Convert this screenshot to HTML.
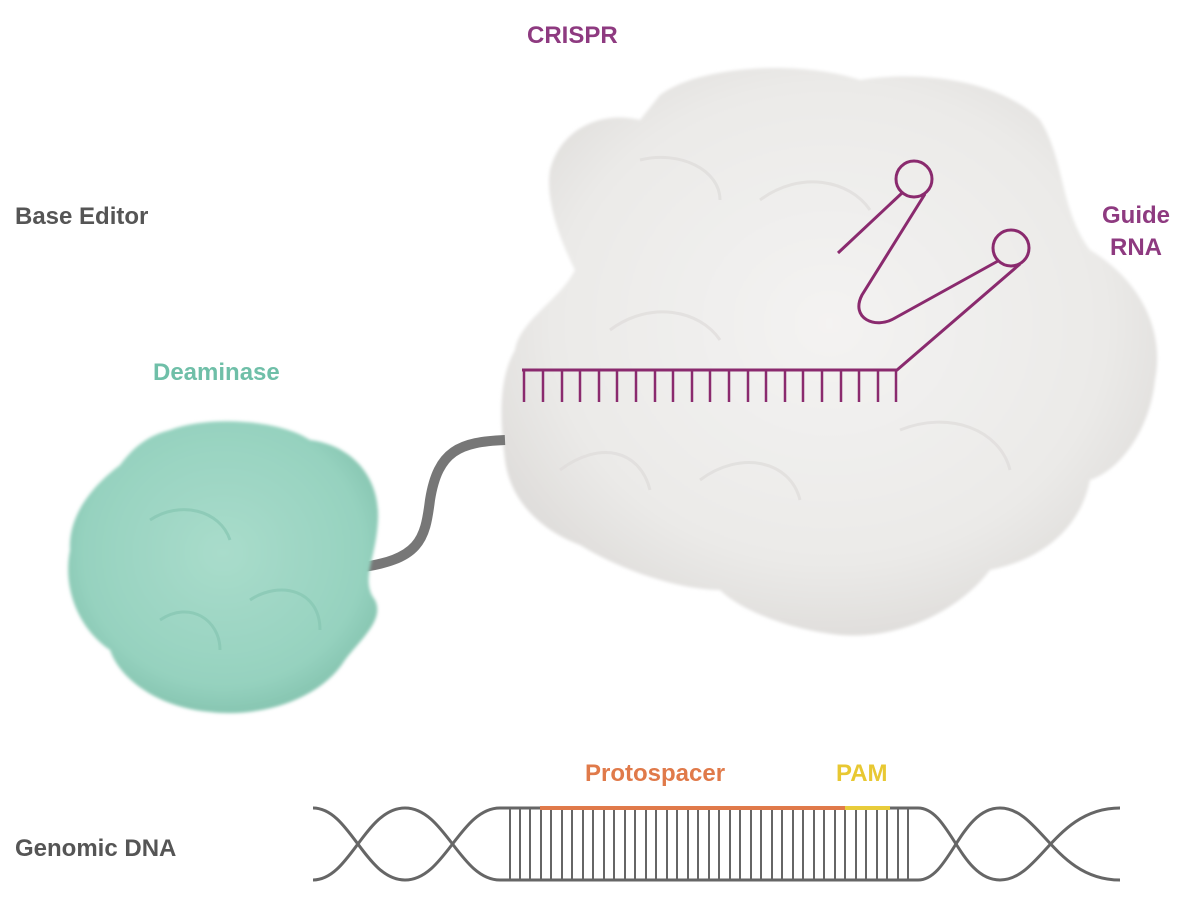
<!DOCTYPE html>
<html><head><meta charset="utf-8"><style>
html,body{margin:0;padding:0;background:#fff;}
svg{display:block}
text{font-family:"Liberation Sans",sans-serif;font-weight:bold;font-size:24px}
</style></head><body>
<svg width="1194" height="900" viewBox="0 0 1194 900" xmlns="http://www.w3.org/2000/svg">
<defs>
<radialGradient id="g1" cx="50%" cy="45%" r="60%">
<stop offset="0" stop-color="#f4f3f2"/><stop offset="0.7" stop-color="#ebeae8"/><stop offset="1" stop-color="#dcdad8"/></radialGradient>
<radialGradient id="g2" cx="50%" cy="45%" r="60%">
<stop offset="0" stop-color="#a9dccb"/><stop offset="0.75" stop-color="#96d2bf"/><stop offset="1" stop-color="#80c0ab"/></radialGradient>
<filter id="bl"><feGaussianBlur stdDeviation="1.5"/></filter>
</defs>
<path filter="url(#bl)" fill="url(#g1)" d="M660,95 C700,65 800,60 860,80 C920,70 1000,80 1040,120 C1065,160 1060,210 1090,250 C1140,280 1165,330 1155,380 C1150,430 1120,470 1090,480 C1080,530 1040,560 990,570 C960,610 900,640 840,635 C790,630 740,610 720,590 C680,590 620,570 580,545 C540,530 510,500 505,460 C500,420 498,380 515,350 C520,320 560,300 575,270 C560,240 545,200 550,170 C560,130 600,110 640,120 Z"/>
<g fill="none" stroke="#dedcda" stroke-width="3" opacity="0.7">
<path d="M610,330 C650,300 700,310 720,340"/><path d="M760,200 C800,170 850,180 870,210"/>
<path d="M700,480 C740,450 790,460 800,500"/><path d="M900,430 C950,410 1000,430 1010,470"/>
<path d="M640,160 C680,150 720,170 720,200"/><path d="M560,470 C600,440 640,450 650,490"/>
</g>
<path d="M356,568 C420,560 425,540 430,500 C438,450 460,442 505,440" fill="none" stroke="#777" stroke-width="10"/>
<path filter="url(#bl)" fill="url(#g2)" d="M170,430 C210,415 280,420 310,440 C350,445 380,475 378,520 C376,560 360,580 375,600 C385,620 360,640 345,660 C320,700 260,718 210,712 C160,708 120,680 110,650 C80,630 62,590 70,550 C68,510 100,480 120,465 C135,445 150,435 170,430 Z"/>
<g fill="none" stroke="#86c6b2" stroke-width="3" opacity="0.7">
<path d="M150,520 C180,500 220,510 230,540"/><path d="M250,600 C280,580 320,590 320,630"/><path d="M160,620 C190,600 220,620 220,650"/>
</g>
<g fill="none" stroke="#8a2a6e" stroke-width="3">
<path d="M522,370 H897 L1020,264"/>
<circle cx="1011" cy="248" r="18"/>
<path d="M998,261 L895,318 C875,330 850,318 862,295 L925,194"/>
<circle cx="914" cy="179" r="18"/>
<path d="M902,193 L838,253"/>
<g stroke-width="2.5">
<path d="M524,370 V402 M543,370 V402 M562,370 V402 M580,370 V402 M599,370 V402 M617,370 V402 M636,370 V402 M655,370 V402 M673,370 V402 M692,370 V402 M710,370 V402 M729,370 V402 M748,370 V402 M766,370 V402 M785,370 V402 M803,370 V402 M822,370 V402 M841,370 V402 M859,370 V402 M878,370 V402 M896,370 V402"/>
</g></g>
<g fill="none" stroke="#666" stroke-width="3">
<path d="M313,808 C350,808 365,880 405,880 C445,880 460,808 500,808 C505,808 508,808 515,808 H918 C950,808 960,880 1000,880 C1040,880 1055,808 1120,808"/>
<path d="M313,880 C350,880 365,808 405,808 C445,808 460,880 500,880 H918 C950,880 960,808 1000,808 C1040,808 1055,880 1120,880"/>
<path stroke-width="2" d="M510,808V880 M520,808V880 M530,808V880 M541,808V880 M551,808V880 M562,808V880 M572,808V880 M583,808V880 M593,808V880 M604,808V880 M614,808V880 M625,808V880 M635,808V880 M646,808V880 M656,808V880 M667,808V880 M677,808V880 M688,808V880 M698,808V880 M709,808V880 M719,808V880 M730,808V880 M740,808V880 M751,808V880 M761,808V880 M772,808V880 M782,808V880 M793,808V880 M803,808V880 M814,808V880 M824,808V880 M835,808V880 M845,808V880 M856,808V880 M866,808V880 M877,808V880 M887,808V880 M898,808V880 M908,808V880"/>
</g>
<path d="M540,808 H845" stroke="#e07a4a" stroke-width="4"/>
<path d="M845,808 H890" stroke="#e8cc3a" stroke-width="4"/>
<text x="527" y="43" fill="#8e3a80">CRISPR</text>
<text x="15" y="224" fill="#555">Base Editor</text>
<text x="1170" y="223" fill="#8e3a80" text-anchor="end">Guide</text>
<text x="1162" y="255" fill="#8e3a80" text-anchor="end">RNA</text>
<text x="153" y="380" fill="#6fbfa8">Deaminase</text>
<text x="585" y="781" fill="#e07a4a">Protospacer</text>
<text x="836" y="781" fill="#e8c832">PAM</text>
<text x="15" y="856" fill="#555">Genomic DNA</text>
</svg>
</body></html>
